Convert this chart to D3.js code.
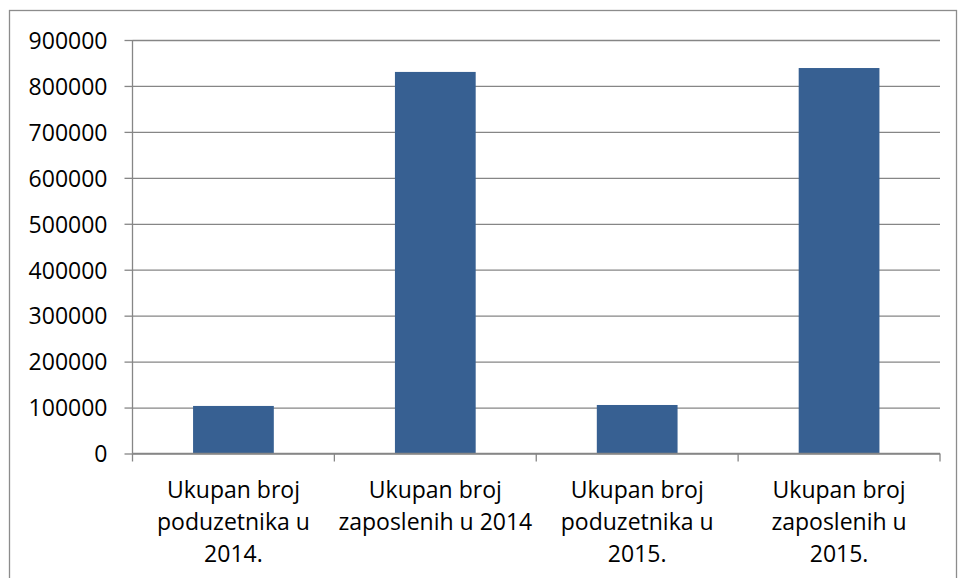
<!DOCTYPE html>
<html>
<head>
<meta charset="utf-8">
<script src="https://cdn.jsdelivr.net/npm/d3@7"></script>
<style>
  body { margin: 0; background: #fff; }
  text { font-family: "Open Sans", sans-serif; fill: #000; }
</style>
</head>
<body>
<script>
// data
var categories = ["Ukupan broj poduzetnika u 2014.", "Ukupan broj zaposlenih u 2014",
                  "Ukupan broj poduzetnika u 2015.", "Ukupan broj zaposlenih u 2015."];
var labelLines = [["Ukupan broj", "poduzetnika u", "2014."],
                  ["Ukupan broj", "zaposlenih u 2014"],
                  ["Ukupan broj", "poduzetnika u", "2015."],
                  ["Ukupan broj", "zaposlenih u", "2015."]];
var values = [103500, 830500, 105600, 839000];
var yTicks = [0, 100000, 200000, 300000, 400000, 500000, 600000, 700000, 800000, 900000];

var W = 958, H = 578;
var margin = {top: 40, right: 18, bottom: 124.5, left: 132.5},
    width = W - margin.left - margin.right,
    height = H - margin.top - margin.bottom;

var svg = d3.select("body").append("svg")
    .attr("width", W)
    .attr("height", H);

// outer frame
svg.append("rect")
    .attr("x", 9.5).attr("y", 10.5)
    .attr("width", 947).attr("height", 620)
    .attr("fill", "none")
    .attr("stroke", "#8c8c8c")
    .attr("stroke-width", 1.3);

var g = svg.append("g")
    .attr("transform", "translate(" + margin.left + "," + margin.top + ")");

var x = d3.scaleBand().domain(categories).range([0, width]).paddingInner(0).paddingOuter(0);
var y = d3.scaleLinear().domain([0, 900000]).range([height, 0]);

// gridlines
g.append("g")
    .call(d3.axisLeft(y).tickValues(yTicks).tickSize(-width).tickFormat(""))
    .call(a => a.select(".domain").remove())
    .selectAll("line")
    .attr("stroke", "#868686")
    .attr("stroke-width", 1.3);

// y axis
var yAxis = g.append("g")
    .call(d3.axisLeft(y).tickValues(yTicks).tickSize(8).tickPadding(17).tickFormat(d3.format("d")));
yAxis.select(".domain").attr("stroke", "#868686").attr("stroke-width", 1.3).attr("d", "M0," + height + "V0");
yAxis.selectAll(".tick line").attr("stroke", "#868686").attr("stroke-width", 1.3);
yAxis.selectAll("text")
    .style("font-size", "23px")
    .attr("dy", "0.36em");

// bars (gap width 150%)
var bw = x.bandwidth() / 2.5;
g.selectAll(".bar")
    .data(values)
    .enter().append("rect")
    .attr("class", "bar")
    .attr("x", (d, i) => x(categories[i]) + (x.bandwidth() - bw) / 2)
    .attr("width", bw)
    .attr("y", d => y(d))
    .attr("height", d => height - y(d))
    .attr("fill", "#376092");

// x axis line and boundary ticks
var xAxis = g.append("g").attr("transform", "translate(0," + height + ")");
xAxis.append("line")
    .attr("x1", 0).attr("x2", width)
    .attr("stroke", "#868686").attr("stroke-width", 1.3);
var bounds = categories.map(c => x(c)).concat([width]);
xAxis.selectAll(".btick")
    .data(bounds)
    .enter().append("line")
    .attr("class", "btick")
    .attr("x1", d => d).attr("x2", d => d)
    .attr("y1", 0).attr("y2", 8)
    .attr("stroke", "#868686").attr("stroke-width", 1.3);

// category labels
var lab = xAxis.selectAll(".lab")
    .data(categories)
    .enter().append("text")
    .attr("class", "lab")
    .attr("text-anchor", "middle")
    .style("font-size", "23px")
    .attr("transform", d => "translate(" + (x(d) + x.bandwidth() / 2) + ",44.5)");
lab.selectAll("tspan")
    .data((d, i) => labelLines[i])
    .enter().append("tspan")
    .attr("x", 0)
    .attr("dy", (d, j) => j === 0 ? 0 : 32)
    .text(d => d);
</script>
</body>
</html>
